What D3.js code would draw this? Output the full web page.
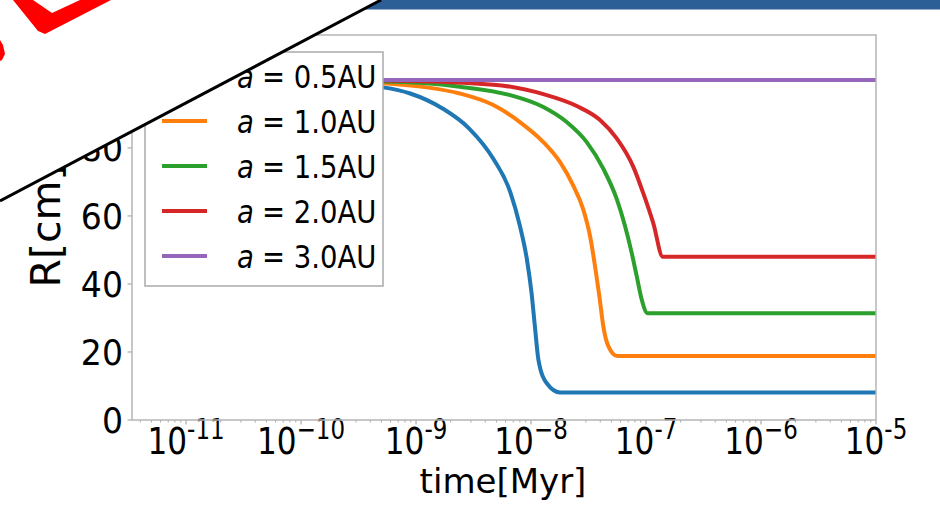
<!DOCTYPE html>
<html>
<head>
<meta charset="utf-8">
<script src="https://cdn.jsdelivr.net/npm/d3@7"></script>
<style>
body { margin: 0; background: #fff; }
text { font-family: "DejaVu Sans", sans-serif; fill: #000; }
</style>
</head>
<body>
<div id="chart"></div>
<script>
// Values: time in Myr, radius in cm
var seriesNames = ["0.5", "1.0", "1.5", "2.0", "3.0"];
var seriesColors = ["#1f77b4", "#ff7f0e", "#2ca02c", "#d62728", "#9467bd"];

var timeA05 = [3.4e-12, 3e-11, 1.5e-10, 5.2e-10, 8.9e-10, 1.7e-9, 2.9e-9, 4.7e-9, 6.6e-9, 8.0e-9, 9.2e-9, 1.01e-8, 1.08e-8, 1.16e-8, 1.37e-8, 1.79e-8, 1e-5];
var radiusA05 = [100, 99.8, 99.2, 97.8, 96, 91.6, 85.7, 76.8, 67, 57.1, 47.3, 37.4, 27.6, 17.7, 10.8, 8.1, 8.1];

var timeA10 = [3.4e-12, 1.5e-10, 5.2e-10, 1.24e-9, 2.4e-9, 4.7e-9, 8.0e-9, 1.28e-8, 1.79e-8, 2.33e-8, 2.84e-8, 3.26e-8, 3.6e-8, 3.93e-8, 4.25e-8, 4.7e-8, 5.62e-8, 1e-5];
var radiusA10 = [100, 99.6, 99, 97.8, 96, 92.6, 87.6, 81.7, 75.8, 68.9, 62, 54.1, 45.3, 36.4, 27.6, 21.7, 18.8, 18.8];

var timeA15 = [3.4e-12, 5.2e-10, 2.4e-9, 6.6e-9, 1.28e-8, 2.04e-8, 3.05e-8, 4.25e-8, 5.56e-8, 6.56e-8, 7.5e-8, 8.3e-8, 9.16e-8, 1.03e-7, 1e-5];
var radiusA15 = [100, 99.5, 98, 95.5, 92, 87.6, 81.7, 73.9, 65, 57.1, 49.2, 42.3, 35.5, 31.4, 31.4];

var timeA20 = [3.4e-12, 5.2e-10, 4.7e-9, 1.28e-8, 2.5e-8, 3.98e-8, 5.56e-8, 7.74e-8, 9.46e-8, 1.156e-7, 1.4e-7, 1e-5];
var radiusA20 = [100, 99.8, 98.6, 95.8, 92.3, 88.2, 82.8, 74.5, 66.7, 57.9, 48.0, 48.0];

var timeA30 = [3.4e-12, 1e-5];
var radiusA30 = [100, 100];

// tick labels (the source mixes hyphens and minus signs)
var xTickValues = [1e-11, 1e-10, 1e-9, 1e-8, 1e-7, 1e-6, 1e-5];
var xTickExponents = ["-11", "\u221210", "-9", "\u22128", "-7", "\u22126", "-5"];
var yTickValues = [0, 20, 40, 60, 80, 100];

var svgWidth = 940;
var svgHeight = 526;

var margin = {
    top: 35,
    right: 64,
    bottom: 106,
    left: 132
};

var width = svgWidth - margin.left - margin.right;
var height = svgHeight - margin.top - margin.bottom;

var svg = d3.select("#chart")
    .append("svg")
    .attr("width", svgWidth)
    .attr("height", svgHeight);

var chartGroup = svg.append("g")
    .attr("transform", `translate(${margin.left}, ${margin.top})`);

var xLogScale = d3.scaleLog()
    .domain([Math.pow(10, -11.47), 1e-5])
    .range([0, width]);

var yLinearScale = d3.scaleLinear()
    .domain([0, 113.2])
    .range([height, 0]);

// clip for the curves
svg.append("defs").append("clipPath")
    .attr("id", "plot-clip")
    .append("rect")
    .attr("width", width)
    .attr("height", height);

// minor ticks on the log axis
var minorTicks = [];
for (var e = -12; e < -5; e++) {
    for (var m = 2; m < 10; m++) {
        var v = m * Math.pow(10, e);
        if (v > xLogScale.domain()[0] && v < 1e-5) minorTicks.push(v);
    }
}

var tickColor = "#aaaaaa";

chartGroup.selectAll(".minor-tick")
    .data(minorTicks)
    .enter()
    .append("line")
    .attr("x1", d => xLogScale(d))
    .attr("x2", d => xLogScale(d))
    .attr("y1", height)
    .attr("y2", height + 2.5)
    .attr("stroke", tickColor)
    .attr("stroke-width", 1);

chartGroup.selectAll(".major-tick")
    .data(xTickValues)
    .enter()
    .append("line")
    .attr("x1", d => xLogScale(d))
    .attr("x2", d => xLogScale(d))
    .attr("y1", height)
    .attr("y2", height + 4.5)
    .attr("stroke", tickColor)
    .attr("stroke-width", 1.2);

chartGroup.selectAll(".y-tick")
    .data(yTickValues)
    .enter()
    .append("line")
    .attr("x1", -4.5)
    .attr("x2", 0)
    .attr("y1", d => yLinearScale(d))
    .attr("y2", d => yLinearScale(d))
    .attr("stroke", tickColor)
    .attr("stroke-width", 1.2);

// x tick labels with superscripts, narrowed like in the source
var xLabels = chartGroup.selectAll(".x-label")
    .data(xTickValues)
    .enter()
    .append("g")
    .attr("transform", d => `translate(${xLogScale(d)}, ${height + 34}) scale(0.82, 1)`)
    .append("text")
    .attr("text-anchor", "middle")
    .attr("font-size", 38);

xLabels.append("tspan").text("10");
xLabels.append("tspan")
    .attr("font-size", 28)
    .attr("dy", -15)
    .text((d, i) => xTickExponents[i]);

chartGroup.selectAll(".y-label")
    .data(yTickValues)
    .enter()
    .append("g")
    .attr("transform", d => `translate(-9, ${yLinearScale(d)}) scale(0.92, 1)`)
    .append("text")
    .attr("dy", "0.36em")
    .attr("text-anchor", "end")
    .attr("font-size", 36)
    .text(d => d);

// curves
var allSeries = [
    { t: timeA05, r: radiusA05 },
    { t: timeA10, r: radiusA10 },
    { t: timeA15, r: radiusA15 },
    { t: timeA20, r: radiusA20 },
    { t: timeA30, r: radiusA30 }
];

var lineGen = d3.line()
    .x(d => xLogScale(d[0]))
    .y(d => yLinearScale(d[1]))
    .curve(d3.curveMonotoneX);

var linesGroup = chartGroup.append("g").attr("clip-path", "url(#plot-clip)");

allSeries.forEach(function(s, i) {
    linesGroup.append("path")
        .datum(d3.zip(s.t, s.r))
        .attr("d", lineGen)
        .attr("fill", "none")
        .attr("stroke", seriesColors[i])
        .attr("stroke-width", 4);
});

// frame
chartGroup.append("rect")
    .attr("width", width)
    .attr("height", height)
    .attr("fill", "none")
    .attr("stroke", "#b5b5b5")
    .attr("stroke-width", 1.5);

// legend
var legend = svg.append("g").attr("transform", "translate(145, 52)");

legend.append("rect")
    .attr("width", 238)
    .attr("height", 234)
    .attr("fill", "#fff")
    .attr("stroke", "#aaaaaa")
    .attr("stroke-width", 1.5);

seriesNames.forEach(function(name, i) {
    var yPos = 24 + i * 45;
    legend.append("line")
        .attr("x1", 17)
        .attr("x2", 62)
        .attr("y1", yPos)
        .attr("y2", yPos)
        .attr("stroke", seriesColors[i])
        .attr("stroke-width", 4);
    legend.append("g")
        .attr("transform", `translate(92, ${yPos + 12}) scale(0.86, 1)`)
        .append("text")
        .attr("font-size", 32)
        .attr("font-style", "italic")
        .text("a");
    legend.append("g")
        .attr("transform", `translate(117, ${yPos + 12}) scale(0.86, 1)`)
        .append("text")
        .attr("font-size", 32)
        .text("= " + name + "AU");
});

// axis titles
svg.append("text")
    .attr("x", 503)
    .attr("y", 493)
    .attr("text-anchor", "middle")
    .attr("font-size", 34)
    .text("time[Myr]");

svg.append("text")
    .attr("transform", "translate(60, 226) rotate(-90)")
    .attr("text-anchor", "middle")
    .attr("font-size", 41)
    .text("R[cm]");

// slide decorations around the figure
svg.append("rect")
    .attr("x", 330)
    .attr("y", 0)
    .attr("width", 610)
    .attr("height", 9.5)
    .attr("fill", "#2c5f96");

svg.append("polygon")
    .attr("points", "0,0 381,0 0,201")
    .attr("fill", "#fff");

svg.append("line")
    .attr("x1", 0)
    .attr("y1", 201)
    .attr("x2", 381)
    .attr("y2", 0)
    .attr("stroke", "#000")
    .attr("stroke-width", 3);

svg.append("polygon")
    .attr("points", "13,0 38,31 45,34 111,0 80,0 52,13 33,0")
    .attr("fill", "#ff0000");

svg.append("polygon")
    .attr("points", "0,40 3,45 5,54 2,60 0,61")
    .attr("fill", "#ff0000");
</script>
</body>
</html>
